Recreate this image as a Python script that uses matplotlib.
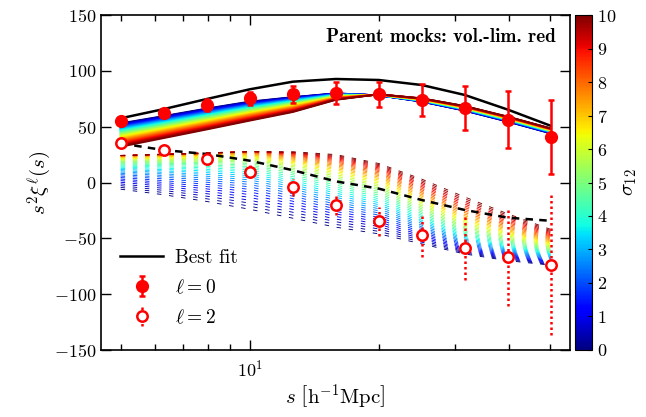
import numpy as np
import matplotlib
matplotlib.use("Agg")
import matplotlib.pyplot as plt
from matplotlib.lines import Line2D

plt.rcParams['mathtext.fontset'] = 'cm'
plt.rcParams['font.family'] = ['cmr10', 'DejaVu Serif']
plt.rcParams['axes.formatter.use_mathtext'] = True
plt.rcParams['axes.unicode_minus'] = True

# ---------------- data ----------------
s = [5.0, 6.31, 7.94, 10.0, 12.59, 15.85, 19.95, 25.12, 31.62, 39.81, 50.12]

xi0 = [55.1, 62.5, 69.4, 75.4, 79.0, 79.9, 79.0, 73.9, 66.6, 56.3, 41.0]
err0 = [2.0, 3.0, 5.0, 6.0, 7.5, 10.0, 11.2, 14.3, 19.7, 25.4, 33.0]
xi2 = [35.1, 28.8, 21.2, 9.7, -4.3, -20.2, -34.8, -47.3, -58.3, -66.8, -74.0]
err2 = [1.0, 2.0, 4.0, 6.0, 7.5, 9.0, 12.7, 19.0, 29.0, 44.0, 63.0]

best0 = [57.5, 65.8, 74.8, 83.5, 90.3, 92.7, 91.8, 87.3, 78.4, 65.3, 50.8]
best2 = [35.0, 29.0, 25.5, 19.5, 11.0, 1.0, -5.5, -15.7, -24.6, -31.5, -34.3]

# model curves read at sigma_12 = 0, 5, 10
mod0_sig0 = [53.0, 59.6, 66.3, 72.5, 76.5, 79.9, 78.0, 72.4, 64.3, 54.5, 44.0]
mod0_sig5 = [44.0, 51.0, 58.0, 65.0, 71.0, 77.5, 78.5, 74.0, 66.5, 57.0, 46.5]
mod0_sig10 = [32.0, 39.8, 47.5, 55.4, 63.1, 74.0, 79.0, 75.4, 68.5, 59.0, 48.5]
mod2_sig0 = [-6.0, -11.0, -17.0, -24.0, -32.0, -40.0, -46.0, -55.0, -64.0, -70.0, -74.0]
mod2_sig5 = [18.0, 18.0, 18.0, 17.0, 10.0, 1.0, -8.0, -25.0, -42.0, -52.0, -60.0]
mod2_sig10 = [24.0, 25.0, 26.0, 27.5, 27.5, 25.0, 17.0, 3.0, -13.0, -28.0, -42.0]

sigmas = np.arange(0, 10.001, 0.25)

cbar_ticks = list(range(0, 11))
yticks = [-150, -100, -50, 0, 50, 100, 150]


def family(a, b, c):
    a, b, c = map(np.asarray, (a, b, c))
    out = []
    for sg in sigmas:
        # quadratic (Lagrange) through the three read curves
        l0 = (sg - 5) * (sg - 10) / ((0 - 5) * (0 - 10))
        l1 = (sg - 0) * (sg - 10) / ((5 - 0) * (5 - 10))
        l2 = (sg - 0) * (sg - 5) / ((10 - 0) * (10 - 5))
        out.append(l0 * a + l1 * b + l2 * c)
    return out


fam0 = family(mod0_sig0, mod0_sig5, mod0_sig10)
fam2 = family(mod2_sig0, mod2_sig5, mod2_sig10)

# ---------------- figure ----------------
fig = plt.figure(figsize=(6.46, 4.17), dpi=100)
ax = fig.add_axes([0.1563, 0.1607, 0.7261, 0.8033])
cax = fig.add_axes([0.890, 0.1607, 0.026, 0.8033])

cmap = plt.get_cmap('jet')
norm = matplotlib.colors.Normalize(0, 10)

for sg, y in zip(sigmas, fam0):
    ax.plot(s, y, color=cmap(norm(sg)), lw=1.3, zorder=2)
for sg, y in zip(sigmas, fam2):
    ax.plot(s, y, color=cmap(norm(sg)), lw=0.65, dashes=(5.0, 8.5), zorder=2)

ax.plot(s, best0, color='k', lw=1.8, zorder=3)
ax.plot(s, best2, color='k', lw=1.8, dashes=(3.0, 2.5), zorder=3)

red = '#ff0000'
e0 = ax.errorbar(s, xi0, yerr=err0, fmt='o', color=red, ms=8.5, elinewidth=1.8,
                 capsize=2.0, capthick=1.8, zorder=5)
e2 = ax.errorbar(s, xi2, yerr=err2, fmt='o', mfc='white', mec=red, mew=1.8,
                 color=red, ms=7.5, elinewidth=1.8, capsize=0, zorder=5)
e2[2][0].set_linestyle((0, (1.0, 1.2)))

ax.set_xscale('log')
ax.set_xlim(4.5, 55.6)
ax.set_ylim(-150, 150)
ax.set_yticks(yticks)
ax.tick_params(which='both', direction='in', top=True, right=True, labelsize=13)
ax.tick_params(axis='x', which='major', pad=6)
ax.tick_params(which='major', length=7, width=1)
ax.tick_params(which='minor', length=4, width=1)
ax.xaxis.set_minor_formatter(matplotlib.ticker.NullFormatter())
for sp in ax.spines.values():
    sp.set_linewidth(1.2)

ax.set_xlabel(r'$s\ \left[\mathrm{h^{-1}Mpc}\right]$', fontsize=15, labelpad=3)
ax.set_ylabel(r'$s^2\xi^{\ell}(s)$', fontsize=15, labelpad=0)

ax.text(0.97, 0.933, 'Parent mocks: vol.-lim. red', transform=ax.transAxes,
        ha='right', va='center', fontsize=13.8, family=['cmb10', 'DejaVu Serif'])

handles = [Line2D([], [], color='k', lw=1.8), e0, e2]
labels = ['Best fit', r'$\ell=0$', r'$\ell=2$']
ax.legend(handles, labels, loc='lower left', bbox_to_anchor=(0.0, 0.01),
          frameon=False, fontsize=14, handlelength=2.2, labelspacing=0.6,
          handletextpad=0.6, borderaxespad=0.6)

sm = matplotlib.cm.ScalarMappable(norm=norm, cmap=cmap)
cb = fig.colorbar(sm, cax=cax, ticks=cbar_ticks)
cb.ax.tick_params(labelsize=13, direction='in', length=3)
cb.set_label(r'$\sigma_{12}$', fontsize=15, labelpad=4)
cb.outline.set_linewidth(0.8)

fig.savefig('out.png', dpi=100)
